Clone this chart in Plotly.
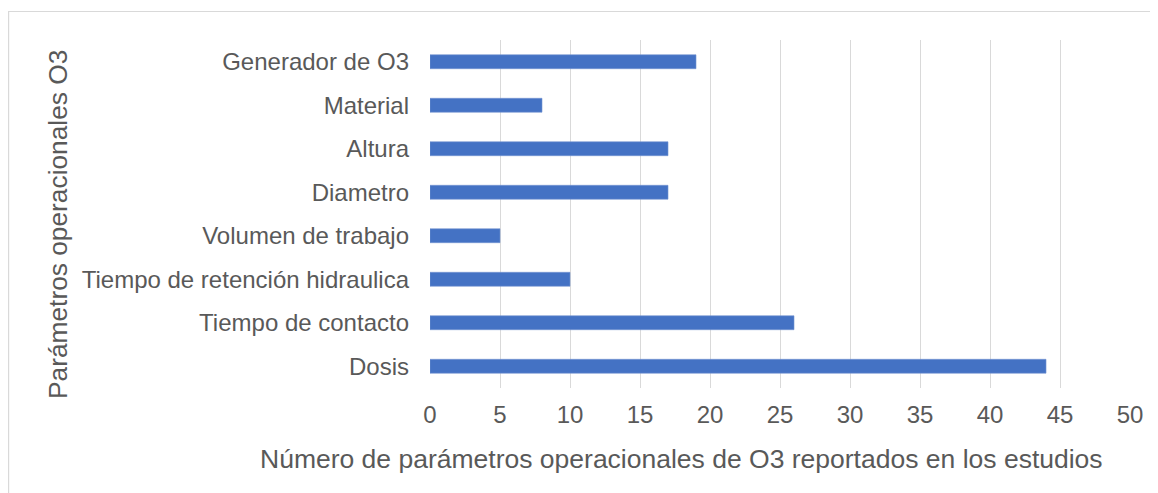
import plotly.graph_objects as go

categories = ["Dosis", "Tiempo de contacto", "Tiempo de retención hidraulica",
              "Volumen de trabajo", "Diametro", "Altura", "Material", "Generador de O3"]
values = [44, 26, 10, 5, 17, 17, 8, 19]
x_ticks = [0, 5, 10, 15, 20, 25, 30, 35, 40, 45, 50]

# the page body adds an 8px margin, so the figure is 1150x485
W, H = 1150, 485
FONT = "Liberation Sans, Arial, sans-serif"
GRAY = "#595959"

fig = go.Figure(go.Bar(
    x=values, y=categories, orientation="h",
    marker=dict(color="#4472C4", line=dict(color="#7393d2", width=0.6)),
    hoverinfo="skip",
))

fig.update_layout(
    width=W, height=H,
    margin=dict(l=0, r=0, t=0, b=0),
    paper_bgcolor="white", plot_bgcolor="white",
    bargap=0.68,
    showlegend=False,
    font=dict(family=FONT, color=GRAY),
    xaxis=dict(
        domain=[422 / W, 1123 / W], range=[0, 50.07],
        tickvals=x_ticks, ticktext=[str(t) for t in x_ticks],
        showgrid=True, gridcolor="#D9D9D9", gridwidth=1.3,
        zeroline=False, showline=False, ticks="",
        tickfont=dict(size=24, family=FONT, color=GRAY),
        ticklabelstandoff=10, automargin=False,
    ),
    yaxis=dict(
        domain=[(H - 380) / H, (H - 32) / H],
        type="category",
        showgrid=False, zeroline=False, showline=False, ticks="",
        tickfont=dict(size=24, family=FONT, color=GRAY),
        ticklabelstandoff=20, automargin=False,
    ),
    shapes=[dict(type="rect", xref="paper", yref="paper",
                 x0=0.6 / W, x1=1.05, y0=-0.1, y1=(H - 3.5) / H,
                 line=dict(color="#D9D9D9", width=1.2), fillcolor="rgba(0,0,0,0)")],
    annotations=[
        dict(text="Número de parámetros operacionales de O3 reportados en los estudios",
             xref="paper", yref="paper", x=673.5 / W, y=(H - 451) / H,
             xanchor="center", yanchor="middle", showarrow=False,
             font=dict(size=26.5, family=FONT, color=GRAY)),
        dict(text="Parámetros operacionales O3",
             xref="paper", yref="paper", x=50 / W, y=(H - 217) / H,
             xanchor="center", yanchor="middle", showarrow=False, textangle=-90,
             font=dict(size=26.3, family=FONT, color=GRAY)),
    ],
)

fig.write_html("out.html")
